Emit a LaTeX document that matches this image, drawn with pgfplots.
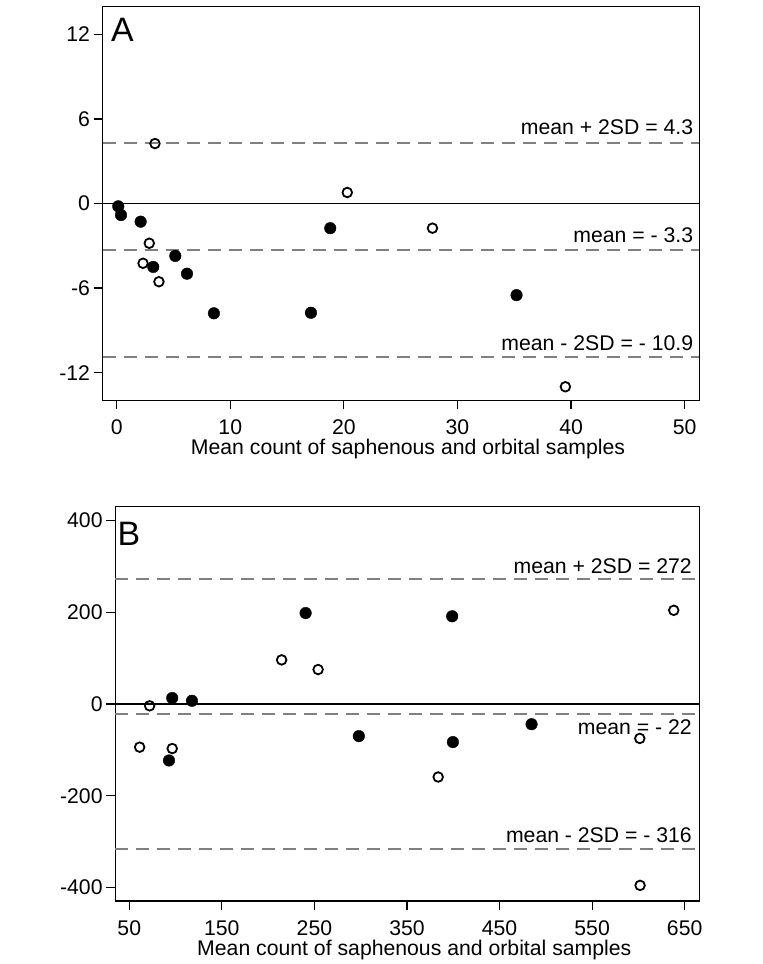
\documentclass[border=0pt]{standalone}
\usepackage{fontspec}
\setmainfont{Liberation Sans}
\usepackage{pgfplots}
\pgfplotsset{compat=1.18}
\definecolor{refgray}{RGB}{128,128,128}
\newcommand{\tfont}{\fontsize{21.3}{21.3}\selectfont}
\pgfplotsset{
  ba/.style={
    scale only axis, anchor=south west,
    axis line style={line width=1.2bp},
    tick pos=left, tick align=outside,
    major tick length=9bp,
    every tick/.style={line width=1.2bp, black},
    ticklabel style={font=\tfont, inner sep=0pt},
    xticklabel style={yshift=-10bp},
    yticklabel style={xshift=-3.5bp},
    xlabel style={font=\tfont, at={(axis description cs:0.5,0)}, anchor=base,
      inner sep=0pt, yshift=-54.7bp, xshift=7bp},
    clip=false,
  },
  filled/.style={only marks, mark=*, mark size=5.8bp, black},
  hollow/.style={only marks, mark=o, mark size=4.8bp, black, line width=1.8bp},
  meanline/.style={refgray, line width=1.4bp, dash pattern=on 13bp off 8bp, forget plot},
  zeroline/.style={black, line width=1.2bp, forget plot},
}
\begin{document}
\begin{tikzpicture}
% Panel A
\begin{axis}[ba,
  at={(102.7bp,563.7bp)}, width=596.6bp, height=393.6bp,
  xmin=-1.23, xmax=51.29, ymin=-13.96, ymax=13.96,
  xtick={0,10,20,30,40,50}, xticklabels={0,10,20,30,40,50},
  ytick={-12,-6,0,6,12}, yticklabels={-12,-6,0,6,12},
  xlabel={Mean count of saphenous and orbital samples},
]
\addplot[zeroline] coordinates {(-1.23,0) (51.29,0)};
\addplot[meanline] coordinates {(-1.23,4.3) (51.29,4.3)};
\addplot[meanline] coordinates {(-1.23,-3.3) (51.29,-3.3)};
\addplot[meanline] coordinates {(-1.23,-10.9) (51.29,-10.9)};
\addplot[filled] coordinates {
  (0.14,-0.2) (0.38,-0.82) (2.11,-1.29) (3.22,-4.5) (5.16,-3.72)
  (6.19,-4.98) (8.56,-7.79) (17.1,-7.75) (18.8,-1.75) (35.2,-6.5)
};
\addplot[hollow] coordinates {
  (3.37,4.25) (20.3,0.78) (2.87,-2.82) (2.32,-4.24) (3.72,-5.55)
  (27.8,-1.75) (39.5,-13.0)
};
\node[anchor=base east, inner sep=0pt, font=\tfont, yshift=8bp] at (axis cs:50.76,4.3) {mean + 2SD = 4.3};
\node[anchor=base east, inner sep=0pt, font=\tfont, yshift=7.6bp] at (axis cs:50.76,-3.3) {mean = - 3.3};
\node[anchor=base east, inner sep=0pt, font=\tfont, yshift=7bp] at (axis cs:50.76,-10.9) {mean - 2SD = - 10.9};
\node[anchor=north west, inner sep=0pt, font=\fontsize{34}{34}\selectfont, xshift=8.3bp, yshift=-11.6bp] at (rel axis cs:0,1) {A};
\end{axis}
% Panel B
\begin{axis}[ba,
  at={(115.3bp,63bp)}, width=584bp, height=394.3bp,
  xmin=34.9, xmax=665.8, ymin=-429, ymax=429.6,
  xtick={50,150,250,350,450,550,650}, xticklabels={50,150,250,350,450,550,650},
  ytick={-400,-200,0,200,400}, yticklabels={-400,-200,0,200,400},
  xlabel={Mean count of saphenous and orbital samples},
]
\addplot[zeroline] coordinates {(34.9,0) (665.8,0)};
\addplot[meanline] coordinates {(34.9,272) (665.8,272)};
\addplot[meanline] coordinates {(34.9,-22) (665.8,-22)};
\addplot[meanline] coordinates {(34.9,-316) (665.8,-316)};
\addplot[filled] coordinates {
  (240.5,198) (96.4,13) (117.7,7) (92.9,-123) (298,-70)
  (398.8,191) (399.6,-83) (484.6,-44)
};
\addplot[hollow] coordinates {
  (61.2,-94) (72,-4) (96.4,-97) (214.6,96) (254,75)
  (383.7,-159) (601.5,-75) (638.2,204) (601.8,-395)
};
\node[anchor=base east, inner sep=0pt, font=\tfont, yshift=6bp] at (axis cs:657.9,272) {mean + 2SD = 272};
\node[anchor=base east, inner sep=0pt, font=\tfont, yshift=-20bp] at (axis cs:657.9,-22) {mean = - 22};
\node[anchor=base east, inner sep=0pt, font=\tfont, yshift=7bp] at (axis cs:657.9,-316) {mean - 2SD = - 316};
\node[anchor=north west, inner sep=0pt, font=\fontsize{34}{34}\selectfont, xshift=2bp, yshift=-15bp] at (rel axis cs:0,1) {B};
\end{axis}
\pgfresetboundingbox
\useasboundingbox (0,0) rectangle (763bp,964bp);
\end{tikzpicture}
\end{document}
